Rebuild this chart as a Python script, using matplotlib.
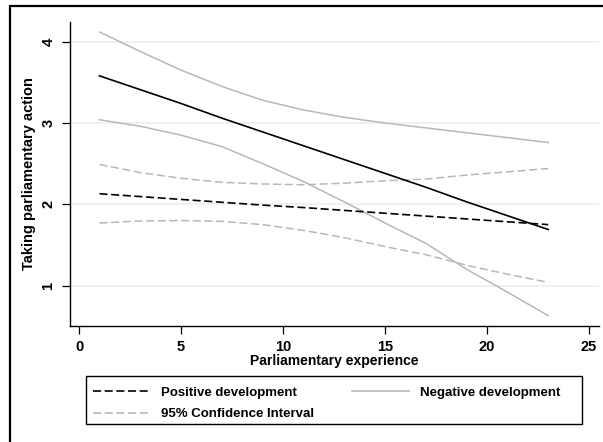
import matplotlib
matplotlib.use("Agg")
import matplotlib.pyplot as plt
from matplotlib.patches import Rectangle
from matplotlib.lines import Line2D

plt.rcParams['font.family'] = ['Liberation Sans', 'DejaVu Sans']
plt.rcParams['font.weight'] = 'bold'
plt.rcParams['axes.labelweight'] = 'bold'
plt.rcParams['lines.scale_dashes'] = False

experience = [1, 3, 5, 7, 9, 11, 13, 15, 17, 19, 21, 23]

pos_mean = [2.13, 2.095, 2.06, 2.025, 1.99, 1.96, 1.925, 1.89, 1.855, 1.82, 1.785, 1.75]
pos_upper = [2.49, 2.39, 2.32, 2.27, 2.25, 2.24, 2.26, 2.29, 2.31, 2.36, 2.40, 2.44]
pos_lower = [1.77, 1.795, 1.80, 1.79, 1.75, 1.68, 1.59, 1.48, 1.38, 1.25, 1.14, 1.04]

neg_mean = [3.58, 3.41, 3.24, 3.06, 2.89, 2.72, 2.55, 2.38, 2.21, 2.03, 1.86, 1.69]
neg_upper = [4.12, 3.88, 3.65, 3.45, 3.28, 3.16, 3.07, 3.00, 2.94, 2.88, 2.82, 2.76]
neg_lower = [3.04, 2.96, 2.85, 2.71, 2.50, 2.28, 2.03, 1.77, 1.52, 1.20, 0.92, 0.63]

xticks = [0, 5, 10, 15, 20, 25]
yticks = [1, 2, 3, 4]

W, H = 603, 442
fig = plt.figure(figsize=(W / 100, H / 100), dpi=100)
fig.patch.set_facecolor('white')

# outer frame (extends beyond the image on right and bottom)
fig.patches.append(Rectangle((9.5 / W, -0.2), 1.5, 1.2 - 6 / H, transform=fig.transFigure,
                             fill=False, edgecolor='black', linewidth=1.6, zorder=0))

left, right, top, bottom = 69.5, 599, 21.7, 326
ax = fig.add_axes([left / W, 1 - bottom / H, (right - left) / W, (bottom - top) / H])
ax.set_xlim(-0.47, 25.49)
ax.set_ylim(0.503, 4.246)

for y in yticks:
    ax.axhline(y, color='#e8f0f1', linewidth=1.2, zorder=0)

grey = '#b8b8b8'
dash = (5.8, 2.6)
lw = 1.1
ax.plot(experience, neg_upper, color=grey, linewidth=lw)
ax.plot(experience, neg_lower, color=grey, linewidth=lw)
ax.plot(experience, pos_upper, color=grey, linewidth=lw, dashes=dash)
ax.plot(experience, pos_lower, color=grey, linewidth=lw, dashes=dash)
ax.plot(experience, neg_mean, color='black', linewidth=1.2)
ax.plot(experience, pos_mean, color='black', linewidth=1.2, dashes=dash)

for s in ['top', 'right']:
    ax.spines[s].set_visible(False)
for s in ['left', 'bottom']:
    ax.spines[s].set_linewidth(1.0)
    ax.spines[s].set_color('black')

ax.set_xticks(xticks)
ax.set_yticks(yticks)
ax.tick_params(axis='both', length=6, width=0.9, labelsize=10.5, pad=4)
for lab in ax.get_yticklabels():
    lab.set_rotation(90)
    lab.set_va('center')
ax.set_xlabel('Parliamentary experience', fontsize=10, labelpad=0)
ax.set_ylabel('Taking parliamentary action', fontsize=10.5, labelpad=4)

# legend frame
fig.patches.append(Rectangle((86 / W, 1 - 424 / H), (582 - 86) / W, (424 - 375.7) / H,
                             transform=fig.transFigure, fill=False, edgecolor='black',
                             linewidth=1.0))

handles = [
    Line2D([], [], color='black', linewidth=1.2, dashes=dash),
    Line2D([], [], color=grey, linewidth=1.2, dashes=dash),
    Line2D([], [], color=grey, linewidth=1.2),
]
labels = ['Positive development', '95% Confidence Interval', 'Negative development']
leg = fig.legend(handles, labels, ncol=2, loc='upper left',
                 bbox_to_anchor=(83 / W, 1 - 376.5 / H),
                 prop={'size': 9.5, 'weight': 'bold'}, frameon=False,
                 handlelength=4.3, handletextpad=0.85,
                 borderaxespad=0, borderpad=0.75, labelspacing=0.72, columnspacing=2.9)

fig.savefig('out.png', dpi=100)
